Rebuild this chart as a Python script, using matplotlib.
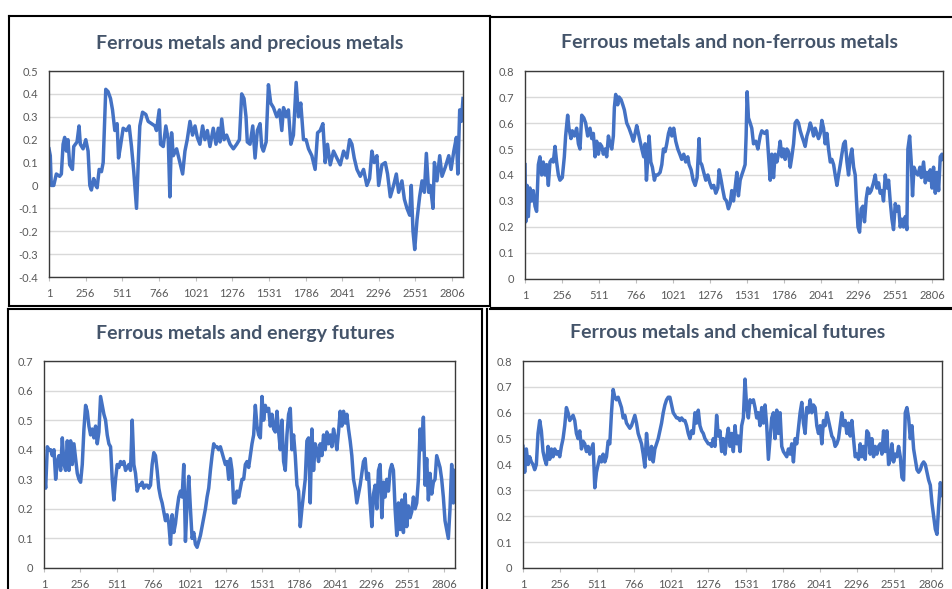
import numpy as np
import matplotlib
matplotlib.use("Agg")
import matplotlib.pyplot as plt
from matplotlib.lines import Line2D
from matplotlib.ticker import FuncFormatter

plt.rcParams['font.family'] = ['Lato', 'DejaVu Sans']

# category ticks of the x axis (trading day index)
x_ticks = [1, 256, 511, 766, 1021, 1276, 1531, 1786, 2041, 2296, 2551, 2806]
n_days = 2882

# Ferrous metals and precious metals
precious_days = [1, 10, 17, 34, 52, 75, 87, 99, 110, 122, 133, 145, 164, 173, 196, 210, 219, 238, 257, 273,
                 285, 296, 312, 326, 336, 350, 366, 378, 396, 412, 429, 443, 459, 475, 485, 498, 517, 540, 559, 575,
                 591, 610, 622, 633, 652, 675, 691, 714, 738, 749, 768, 777, 796, 814, 831, 842, 854, 866, 889, 912,
                 931, 947, 963, 982, 1000, 1017, 1033, 1051, 1070, 1086, 1103, 1121, 1144, 1163, 1179, 1191, 1203,
                 1219, 1237, 1261, 1284, 1307, 1326, 1342, 1358, 1372, 1381, 1400, 1419, 1435, 1451, 1470, 1481,
                 1493, 1512, 1528, 1544, 1563, 1586, 1605, 1621, 1633, 1651, 1667, 1684, 1702, 1721, 1737, 1753,
                 1772, 1790, 1807, 1830, 1853, 1870, 1888, 1907, 1923, 1939, 1958, 1981, 2004, 2028, 2051, 2074,
                 2093, 2109, 2125, 2144, 2167, 2190, 2213, 2232, 2248, 2264, 2283, 2295, 2318, 2341, 2357, 2376,
                 2399, 2418, 2434, 2457, 2474, 2492, 2511, 2522, 2534, 2546, 2562, 2580, 2597, 2613, 2627, 2643,
                 2655, 2673, 2683, 2701, 2720, 2736, 2759, 2783, 2799, 2818, 2836, 2846, 2859, 2871, 2882]
precious = [0.16, 0.13, 0.0, 0.0, 0.05, 0.04, 0.05, 0.18, 0.21, 0.15, 0.20, 0.09, 0.07, 0.17, 0.19, 0.26, 0.18,
            0.16, 0.20, 0.15, 0.0, -0.02, 0.03, 0.0, -0.01, 0.07, 0.06, 0.10, 0.42, 0.41, 0.38, 0.33, 0.24, 0.27,
            0.12, 0.17, 0.25, 0.24, 0.26, 0.17, 0.06, -0.10, 0.10, 0.26, 0.32, 0.31, 0.28, 0.27, 0.26, 0.24, 0.33,
            0.18, 0.17, 0.26, 0.20, -0.05, 0.23, 0.13, 0.16, 0.10, 0.05, 0.15, 0.20, 0.28, 0.22, 0.26, 0.21, 0.18,
            0.26, 0.20, 0.24, 0.17, 0.25, 0.18, 0.25, 0.19, 0.29, 0.20, 0.22, 0.18, 0.16, 0.18, 0.20, 0.40, 0.38,
            0.30, 0.19, 0.18, 0.26, 0.12, 0.24, 0.27, 0.17, 0.15, 0.19, 0.44, 0.36, 0.34, 0.30, 0.33, 0.24, 0.34,
            0.30, 0.33, 0.18, 0.22, 0.45, 0.30, 0.36, 0.20, 0.20, 0.16, 0.13, 0.07, 0.23, 0.24, 0.27, 0.10, 0.18,
            0.09, 0.15, 0.12, 0.09, 0.15, 0.12, 0.20, 0.18, 0.12, 0.07, 0.04, 0.07, 0.0, 0.03, 0.15, 0.10, 0.13,
            0.0, 0.09, 0.10, 0.05, -0.05, 0.0, 0.05, -0.03, 0.02, -0.06, -0.10, -0.13, 0.0, -0.20, -0.28, -0.15,
            -0.05, 0.02, -0.03, 0.14, -0.03, 0.0, -0.10, 0.10, 0.02, 0.13, 0.04, 0.08, 0.13, 0.07, 0.15, 0.21,
            0.05, 0.33, 0.28, 0.38]

# Ferrous metals and non-ferrous metals
nonferrous_days = [1, 6, 15, 24, 35, 47, 58, 70, 81, 93, 104, 116, 127, 139, 150, 162, 173, 185, 196, 208, 219,
                   231, 242, 258, 272, 281, 295, 304, 318, 327, 341, 357, 369, 380, 392, 406, 419, 433, 449, 461,
                   472, 484, 495, 507, 518, 530, 541, 553, 564, 576, 587, 599, 610, 617, 626, 640, 649, 663, 675,
                   686, 702, 718, 737, 748, 760, 771, 783, 794, 806, 819, 829, 838, 847, 856, 868, 879, 893, 902,
                   916, 932, 944, 955, 967, 978, 990, 1001, 1013, 1026, 1040, 1054, 1068, 1081, 1095, 1109, 1123,
                   1132, 1146, 1160, 1174, 1187, 1201, 1208, 1219, 1233, 1247, 1261, 1275, 1288, 1302, 1316, 1330,
                   1339, 1353, 1362, 1376, 1390, 1403, 1415, 1426, 1438, 1449, 1461, 1472, 1484, 1495, 1507, 1518,
                   1525, 1532, 1541, 1553, 1564, 1576, 1592, 1606, 1622, 1633, 1652, 1668, 1679, 1691, 1702, 1714,
                   1725, 1737, 1748, 1760, 1771, 1783, 1794, 1806, 1817, 1829, 1840, 1852, 1863, 1875, 1886, 1898,
                   1909, 1921, 1932, 1944, 1955, 1967, 1978, 1990, 2001, 2013, 2024, 2036, 2047, 2059, 2070, 2082,
                   2093, 2105, 2116, 2128, 2139, 2151, 2162, 2174, 2185, 2197, 2208, 2220, 2231, 2243, 2254, 2266,
                   2277, 2284, 2296, 2307, 2318, 2330, 2341, 2353, 2364, 2376, 2387, 2403, 2415, 2426, 2438, 2449,
                   2461, 2472, 2484, 2495, 2507, 2518, 2530, 2541, 2553, 2564, 2576, 2587, 2599, 2610, 2622, 2633,
                   2640, 2652, 2663, 2672, 2682, 2695, 2709, 2723, 2733, 2748, 2760, 2771, 2783, 2794, 2806, 2817,
                   2829, 2840, 2852, 2863, 2875, 2882]
nonferrous = [0.44, 0.22, 0.36, 0.24, 0.35, 0.30, 0.34, 0.28, 0.26, 0.44, 0.47, 0.40, 0.45, 0.40, 0.44, 0.36,
              0.45, 0.46, 0.45, 0.51, 0.45, 0.40, 0.38, 0.39, 0.47, 0.55, 0.63, 0.58, 0.54, 0.57, 0.55, 0.58, 0.52,
              0.50, 0.63, 0.62, 0.60, 0.55, 0.58, 0.54, 0.56, 0.47, 0.53, 0.48, 0.52, 0.51, 0.48, 0.50, 0.47, 0.55,
              0.52, 0.50, 0.55, 0.66, 0.71, 0.67, 0.70, 0.69, 0.67, 0.65, 0.60, 0.58, 0.55, 0.53, 0.56, 0.59, 0.56,
              0.53, 0.50, 0.47, 0.52, 0.38, 0.46, 0.55, 0.45, 0.43, 0.38, 0.40, 0.40, 0.41, 0.44, 0.50, 0.49, 0.52,
              0.56, 0.58, 0.55, 0.58, 0.53, 0.50, 0.48, 0.46, 0.48, 0.45, 0.47, 0.44, 0.42, 0.38, 0.36, 0.39, 0.54,
              0.45, 0.44, 0.41, 0.38, 0.40, 0.37, 0.35, 0.36, 0.33, 0.35, 0.42, 0.38, 0.35, 0.31, 0.30, 0.27, 0.29,
              0.34, 0.30, 0.35, 0.41, 0.32, 0.38, 0.40, 0.42, 0.44, 0.55, 0.72, 0.62, 0.60, 0.58, 0.52, 0.53, 0.50,
              0.55, 0.57, 0.56, 0.57, 0.48, 0.38, 0.48, 0.39, 0.48, 0.45, 0.48, 0.53, 0.47, 0.50, 0.46, 0.50, 0.49,
              0.43, 0.47, 0.52, 0.60, 0.61, 0.60, 0.57, 0.55, 0.53, 0.51, 0.55, 0.57, 0.60, 0.58, 0.55, 0.58, 0.56,
              0.54, 0.56, 0.61, 0.58, 0.52, 0.56, 0.50, 0.45, 0.46, 0.44, 0.40, 0.36, 0.40, 0.44, 0.48, 0.52, 0.53,
              0.45, 0.40, 0.47, 0.50, 0.43, 0.40, 0.32, 0.20, 0.18, 0.27, 0.28, 0.22, 0.31, 0.35, 0.33, 0.34, 0.37,
              0.40, 0.35, 0.37, 0.33, 0.34, 0.30, 0.40, 0.35, 0.38, 0.30, 0.23, 0.19, 0.29, 0.26, 0.28, 0.20, 0.23,
              0.20, 0.24, 0.19, 0.50, 0.55, 0.45, 0.32, 0.43, 0.41, 0.40, 0.43, 0.39, 0.45, 0.37, 0.41, 0.38, 0.42,
              0.35, 0.43, 0.33, 0.41, 0.34, 0.47, 0.48, 0.46]

# Ferrous metals and energy futures (read at even steps along the axis)
energy = [0.33, 0.27, 0.41, 0.40, 0.40, 0.38, 0.40, 0.30, 0.36, 0.38, 0.33, 0.44, 0.35, 0.33, 0.43, 0.33, 0.43,
          0.35, 0.42, 0.37, 0.32, 0.30, 0.29, 0.35, 0.47, 0.55, 0.53, 0.48, 0.45, 0.47, 0.44, 0.48, 0.42, 0.46,
          0.58, 0.55, 0.52, 0.50, 0.45, 0.42, 0.41, 0.30, 0.23, 0.30, 0.35, 0.34, 0.36, 0.35, 0.36, 0.33, 0.34,
          0.35, 0.33, 0.50, 0.35, 0.32, 0.26, 0.28, 0.28, 0.29, 0.27, 0.28, 0.28, 0.27, 0.28, 0.35, 0.39, 0.38,
          0.33, 0.27, 0.24, 0.22, 0.19, 0.16, 0.18, 0.15, 0.08, 0.18, 0.12, 0.15, 0.20, 0.24, 0.26, 0.24, 0.35,
          0.09, 0.22, 0.31, 0.20, 0.10, 0.12, 0.08, 0.07, 0.09, 0.11, 0.14, 0.17, 0.20, 0.24, 0.27, 0.33, 0.38,
          0.42, 0.41, 0.41, 0.40, 0.41, 0.39, 0.37, 0.35, 0.36, 0.30, 0.37, 0.33, 0.22, 0.22, 0.26, 0.24, 0.27,
          0.30, 0.30, 0.35, 0.36, 0.34, 0.38, 0.42, 0.45, 0.55, 0.48, 0.45, 0.44, 0.58, 0.50, 0.55, 0.53, 0.54,
          0.48, 0.52, 0.47, 0.46, 0.53, 0.46, 0.40, 0.50, 0.36, 0.33, 0.45, 0.52, 0.54, 0.40, 0.45, 0.38, 0.28,
          0.26, 0.14, 0.20, 0.25, 0.30, 0.43, 0.44, 0.22, 0.47, 0.33, 0.42, 0.40, 0.36, 0.42, 0.38, 0.45, 0.40,
          0.46, 0.42, 0.45, 0.41, 0.47, 0.44, 0.40, 0.46, 0.53, 0.48, 0.53, 0.49, 0.52, 0.47, 0.43, 0.38, 0.30,
          0.27, 0.22, 0.25, 0.28, 0.32, 0.36, 0.37, 0.30, 0.32, 0.22, 0.14, 0.25, 0.28, 0.20, 0.33, 0.35, 0.17,
          0.29, 0.24, 0.30, 0.26, 0.33, 0.35, 0.33, 0.20, 0.11, 0.22, 0.13, 0.23, 0.12, 0.25, 0.14, 0.21, 0.17,
          0.19, 0.24, 0.20, 0.22, 0.30, 0.47, 0.40, 0.51, 0.28, 0.37, 0.23, 0.32, 0.25, 0.29, 0.30, 0.38, 0.36,
          0.34, 0.30, 0.24, 0.16, 0.13, 0.10, 0.20, 0.35, 0.22, 0.33]

# Ferrous metals and chemical futures (read at even steps along the axis)
chemical = [0.47, 0.37, 0.46, 0.40, 0.43, 0.41, 0.40, 0.38, 0.40, 0.52, 0.57, 0.53, 0.45, 0.42, 0.40, 0.47,
            0.42, 0.46, 0.43, 0.46, 0.44, 0.45, 0.43, 0.47, 0.50, 0.55, 0.62, 0.60, 0.57, 0.58, 0.59, 0.57, 0.52,
            0.50, 0.53, 0.46, 0.49, 0.48, 0.45, 0.47, 0.44, 0.46, 0.48, 0.31, 0.37, 0.40, 0.43, 0.41, 0.44, 0.41,
            0.43, 0.49, 0.48, 0.60, 0.69, 0.66, 0.65, 0.66, 0.64, 0.62, 0.58, 0.59, 0.56, 0.55, 0.54, 0.55, 0.57,
            0.59, 0.56, 0.52, 0.50, 0.48, 0.44, 0.39, 0.52, 0.45, 0.42, 0.47, 0.41, 0.46, 0.48, 0.50, 0.53, 0.56,
            0.60, 0.63, 0.65, 0.66, 0.66, 0.63, 0.60, 0.59, 0.58, 0.58, 0.57, 0.58, 0.57, 0.57, 0.55, 0.52, 0.50,
            0.53, 0.52, 0.60, 0.56, 0.61, 0.55, 0.53, 0.52, 0.50, 0.49, 0.48, 0.48, 0.47, 0.50, 0.47, 0.59, 0.51,
            0.53, 0.45, 0.50, 0.44, 0.50, 0.54, 0.47, 0.52, 0.45, 0.55, 0.48, 0.51, 0.45, 0.55, 0.58, 0.73, 0.62,
            0.58, 0.65, 0.64, 0.65, 0.62, 0.58, 0.60, 0.55, 0.62, 0.56, 0.63, 0.55, 0.42, 0.50, 0.58, 0.60, 0.50,
            0.61, 0.52, 0.60, 0.47, 0.45, 0.44, 0.43, 0.46, 0.44, 0.48, 0.41, 0.50, 0.48, 0.54, 0.60, 0.64, 0.56,
            0.52, 0.62, 0.60, 0.65, 0.60, 0.63, 0.62, 0.55, 0.52, 0.55, 0.48, 0.57, 0.55, 0.60, 0.57, 0.54, 0.51,
            0.50, 0.47, 0.48, 0.50, 0.55, 0.60, 0.55, 0.57, 0.52, 0.56, 0.51, 0.57, 0.50, 0.43, 0.44, 0.42, 0.48,
            0.43, 0.47, 0.42, 0.53, 0.52, 0.44, 0.50, 0.43, 0.47, 0.44, 0.47, 0.48, 0.44, 0.53, 0.45, 0.53, 0.40,
            0.42, 0.48, 0.41, 0.44, 0.43, 0.47, 0.43, 0.35, 0.34, 0.60, 0.62, 0.58, 0.50, 0.55, 0.46, 0.42, 0.38,
            0.37, 0.38, 0.40, 0.41, 0.40, 0.37, 0.34, 0.32, 0.25, 0.20, 0.15, 0.13, 0.24, 0.33, 0.28]

panels = [
    # title, days, values, y limits, axes box (l, t, r, b) px, title centre px
    ("Ferrous metals and precious metals", precious_days, precious, (-0.4, 0.5), (49, 71, 463, 277), (250, 43)),
    ("Ferrous metals and non-ferrous metals", nonferrous_days, nonferrous, (0, 0.8), (525, 71, 943, 279), (730, 43)),
    ("Ferrous metals and energy futures", None, energy, (0, 0.7), (44, 361, 455, 568), (245, 333)),
    ("Ferrous metals and chemical futures", None, chemical, (0, 0.8), (523, 361, 942, 568), (728, 333)),
]

W, H = 953, 589
fig = plt.figure(figsize=(W / 100, H / 100), dpi=100)


def fx(x):
    return x / W


def fy(y):
    return 1 - y / H


def ylabel_fmt(v, pos):
    if abs(v) < 1e-9:
        return "0"
    return f"{v:.1f}"


for title, days, vals, ylim, box, tpos in panels:
    l, t, r, b = box
    ax = fig.add_axes([fx(l), fy(b), fx(r - l), (b - t) / H])
    if days is None:
        days = np.linspace(1, n_days, len(vals))
    ax.plot(days, vals, color="#4472C4", lw=2.5, solid_joinstyle="round")
    ax.set_xlim(1, n_days)
    ax.set_ylim(*ylim)
    yt = np.round(np.arange(ylim[0], ylim[1] + 0.001, 0.1), 1)
    ax.set_yticks(yt)
    ax.yaxis.set_major_formatter(FuncFormatter(ylabel_fmt))
    ax.set_xticks(x_ticks)
    ax.set_xticklabels([str(v) for v in x_ticks])
    ax.grid(axis="y", color="#D9D9D9", lw=1.0)
    ax.set_axisbelow(True)
    for s in ax.spines.values():
        s.set_color("#3A3A3A")
        s.set_linewidth(1.0)
    ax.tick_params(axis="y", length=0, pad=8, labelsize=8, labelcolor="#595959")
    ax.tick_params(axis="x", length=3, width=0.8, color="#BFBFBF", pad=5, labelsize=8, labelcolor="#595959")
    fig.text(fx(tpos[0]), fy(tpos[1]), title, ha="center", va="center",
             fontsize=14, fontweight="bold", color="#44546A")

# black frames around the pasted charts
frame_lines = [
    ((9, 490), (16, 16)), ((9, 9), (16, 306)), ((9, 490), (306, 306)), ((490, 490), (16, 306)),
    ((491, 953), (17, 17)), ((491, 953), (308, 308)),
    ((8, 482), (309, 309)), ((8, 8), (309, 589)), ((482, 482), (309, 589)), ((487, 487), (309, 589)),
    ((490, 953), (309, 309)),
]
for xs, ys in frame_lines:
    fig.add_artist(Line2D([fx(xs[0]), fx(xs[1])], [fy(ys[0]), fy(ys[1])],
                          color="black", lw=1.5, transform=fig.transFigure))

fig.savefig("out.png", dpi=100)
